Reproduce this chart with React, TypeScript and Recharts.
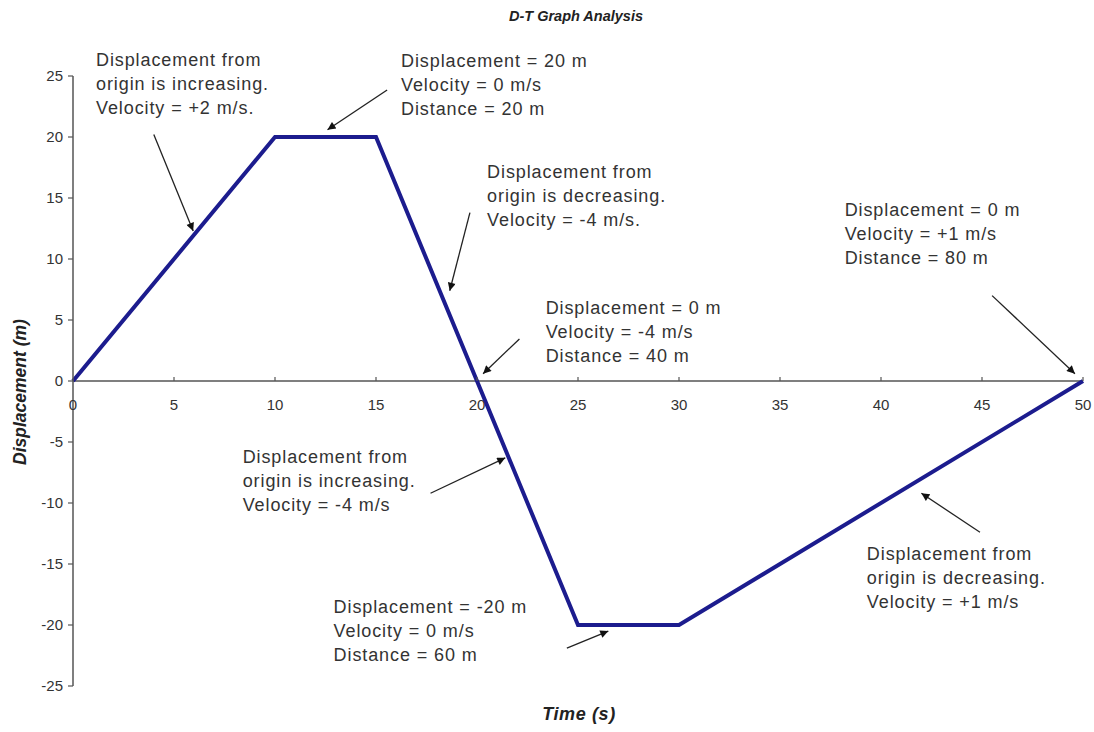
import { LineChart, Line, XAxis, YAxis, ReferenceLine, ReferenceDot } from 'recharts';

const times = [0, 10, 15, 20, 25, 30, 50];
const displacement = [0, 20, 20, 0, -20, -20, 0];
const xTicks = [0, 5, 10, 15, 20, 25, 30, 35, 40, 45, 50];
const yTicks = [-25, -20, -15, -10, -5, 0, 5, 10, 15, 20, 25];

// note anchors in data units (left edge, first line centre)
const notes = [
  { x: 1.14, y: 26.3, lines: ['Displacement from', 'origin is increasing.', 'Velocity = +2 m/s.'] },
  { x: 16.24, y: 26.2, lines: ['Displacement = 20 m', 'Velocity = 0 m/s', 'Distance = 20 m'] },
  { x: 20.5, y: 17.1, lines: ['Displacement from', 'origin is decreasing.', 'Velocity = -4 m/s.'] },
  { x: 38.2, y: 14.0, lines: ['Displacement = 0 m', 'Velocity = +1 m/s', 'Distance = 80 m'] },
  { x: 23.4, y: 6.0, lines: ['Displacement = 0 m', 'Velocity = -4 m/s', 'Distance = 40 m'] },
  { x: 8.4, y: -6.2, lines: ['Displacement from', 'origin is increasing.', 'Velocity = -4 m/s'] },
  { x: 12.9, y: -18.5, lines: ['Displacement = -20 m', 'Velocity = 0 m/s', 'Distance = 60 m'] },
  { x: 39.3, y: -14.2, lines: ['Displacement from', 'origin is decreasing.', 'Velocity = +1 m/s'] },
];

// arrows: from [x, y] to [x, y] in data units
const arrows = [
  [[4.0, 20.2], [5.95, 12.3]],
  [[15.55, 23.85], [12.6, 20.6]],
  [[19.65, 13.8], [18.65, 7.4]],
  [[45.5, 7.0], [49.6, 0.6]],
  [[22.1, 3.45], [20.3, 0.6]],
  [[17.7, -9.2], [21.4, -6.3]],
  [[24.45, -21.9], [26.5, -20.5]],
  [[44.9, -12.4], [42.0, -9.2]],
];

const data = times.map((t, i) => ({ t, d: displacement[i] }));

const W = 1094;
const H = 732;
const M = { top: 76, right: 11, bottom: 45, left: 13 };
const PLOT_H = H - M.top - M.bottom - 1;
const FONT = '"Liberation Sans", Arial, sans-serif';

const XTick = (props: any) => {
  const { x, payload } = props;
  const y0 = M.top + PLOT_H / 2;
  return (
    <g>
      {payload.value !== 0 && <line x1={x} x2={x} y1={y0 - 4} y2={y0} stroke="#555" strokeWidth={1.2} />}
      <text x={x} y={y0 + 23} textAnchor="middle" dominantBaseline="central" fontSize={15} fill="#333" fontFamily={FONT}>
        {payload.value}
      </text>
    </g>
  );
};

const Note = (props: any) => {
  const { cx, cy, lines } = props;
  return (
    <text x={cx} y={cy} fontSize={18} letterSpacing={0.9} fill="#333" fontFamily={FONT} dominantBaseline="central">
      {lines.map((l: string, i: number) => (
        <tspan key={i} x={cx} dy={i === 0 ? 0 : 24}>{l}</tspan>
      ))}
    </text>
  );
};

const Arrow = (props: any) => (
  <line x1={props.x1} y1={props.y1} x2={props.x2} y2={props.y2} stroke="#222" strokeWidth={1.3} markerEnd="url(#arrowHead)" />
);

export default function App() {
  return (
    <div style={{ position: 'absolute', left: 0, top: 0, width: W, height: H, background: '#fff', fontFamily: FONT }}>
      <div style={{ position: 'absolute', top: 8, left: 0, width: 1152, textAlign: 'center', fontSize: 14.5, fontWeight: 'bold', fontStyle: 'italic', color: '#222' }}>
        D-T Graph Analysis
      </div>
      <div style={{ position: 'absolute', top: 704, left: 0, width: 1158, textAlign: 'center', fontSize: 18, letterSpacing: 0.6, fontWeight: 'bold', fontStyle: 'italic', color: '#222' }}>
        Time (s)
      </div>
      <div style={{ position: 'absolute', left: 20, top: 392, transform: 'translate(-50%, -50%) rotate(-90deg)', whiteSpace: 'nowrap', fontSize: 17.5, fontWeight: 'bold', fontStyle: 'italic', color: '#222' }}>
        Displacement (m)
      </div>
      <LineChart width={W} height={H} data={data} margin={M} style={{ position: 'absolute', left: 0, top: 0 }}>
        <defs>
          <marker id="arrowHead" viewBox="0 0 10 10" refX="10" refY="5" markerWidth="10" markerHeight="8" markerUnits="userSpaceOnUse" orient="auto">
            <path d="M0,0 L10,5 L0,10 z" fill="#111" />
          </marker>
        </defs>
        <XAxis
          dataKey="t"
          type="number"
          domain={[0, 50]}
          ticks={xTicks}
          interval={0}
          height={1}
          axisLine={false}
          tickLine={false}
          tick={<XTick />}
        />
        <YAxis
          type="number"
          domain={[-25, 25]}
          ticks={yTicks}
          interval={0}
          width={60}
          axisLine={{ stroke: '#555', strokeWidth: 1.5 }}
          tickLine={{ stroke: '#555', strokeWidth: 1.2 }}
          tickSize={5}
          tickMargin={5}
          tick={{ fontSize: 15, fill: '#333', fontFamily: FONT }}
        />
        <ReferenceLine y={0} stroke="#555" strokeWidth={1.5} />
        <Line
          dataKey="d"
          type="linear"
          stroke="#1c1c8e"
          strokeWidth={4}
          dot={false}
          isAnimationActive={false}
        />
        {arrows.map((a, i) => (
          <ReferenceLine key={'a' + i} segment={[{ x: a[0][0], y: a[0][1] }, { x: a[1][0], y: a[1][1] }]} ifOverflow="visible" shape={<Arrow />} />
        ))}
        {notes.map((n, i) => (
          <ReferenceDot key={'n' + i} x={n.x} y={n.y} r={0} ifOverflow="visible" shape={<Note lines={n.lines} />} />
        ))}
      </LineChart>
    </div>
  );
}
